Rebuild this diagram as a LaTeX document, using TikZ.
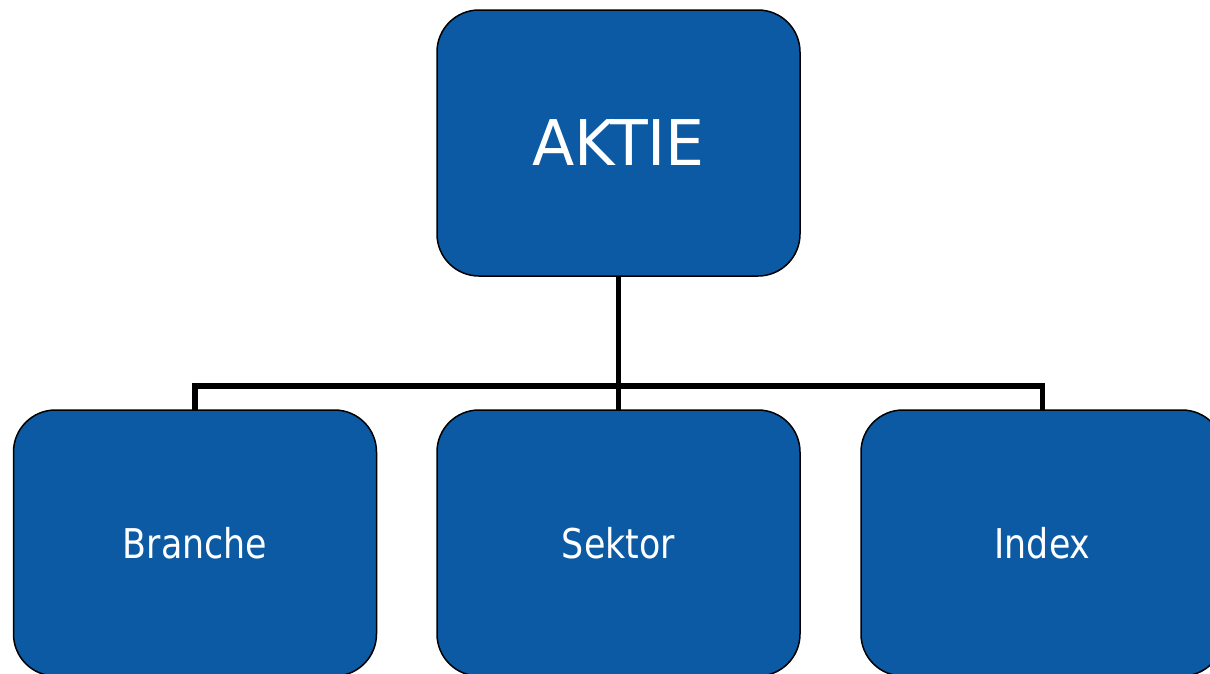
\documentclass[tikz,border=0pt]{standalone}
\usepackage{fontspec}
\newfontfamily\bigf[FakeStretch=0.98]{DejaVu Sans}
\newfontfamily\smallf[FakeStretch=0.85]{DejaVu Sans}
\definecolor{boxblue}{RGB}{12,90,163}
\tikzset{
  orgbox/.style={draw=black, line width=1.5pt, fill=boxblue, text=white,
    rounded corners=42pt, minimum width=363pt, minimum height=266pt,
    inner sep=0pt, outer sep=0pt},
  link/.style={draw=black, line width=5.5pt, line join=miter}
}
\begin{document}
\begin{tikzpicture}[x=1pt, y=-1pt]
\useasboundingbox (0,0) rectangle (1210,673);
\node[orgbox, font={\bigf\fontsize{63}{70}\selectfont}] (top) at (618.5,143) {AKTIE};
\node[orgbox, font={\smallf\fontsize{41}{48}\selectfont}] (b1) at (195,543) {Branche};
\node[orgbox, font={\smallf\fontsize{41}{48}\selectfont}] (b2) at (618.5,543) {Sektor};
\node[orgbox, font={\smallf\fontsize{41}{48}\selectfont}] (b3) at (1042.5,543) {Index};
\coordinate (bus) at (618.5,386);
\draw[link] (top.south) -- (b2.north);
\draw[link] (b1.north) |- (bus) -| (b3.north);
\end{tikzpicture}
\end{document}
